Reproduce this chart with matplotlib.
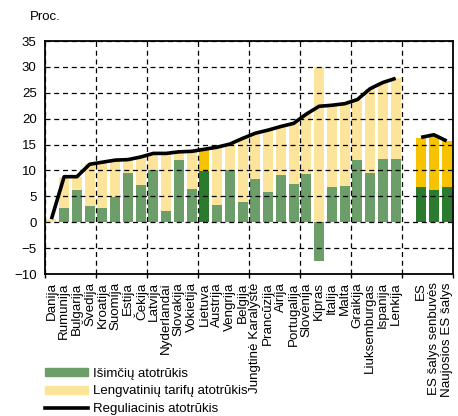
import numpy as np
import matplotlib
matplotlib.use('Agg')
import matplotlib.pyplot as plt
from matplotlib.lines import Line2D
from matplotlib.patches import Patch

plt.rcParams['font.family'] = ['Liberation Sans Narrow', 'Liberation Sans', 'DejaVu Sans']

# šalys (surikiuotos pagal reguliacinį atotrūkį)
countries = ['Danija', 'Rumunija', 'Bulgarija', 'Švedija', 'Kroatija', 'Suomija', 'Estija',
             'Čekija', 'Latvija', 'Nyderlandai', 'Slovakija', 'Vokietija', 'Lietuva',
             'Austrija', 'Vengrija', 'Belgija', 'Jungtinė Karalystė', 'Prancūzija', 'Airija',
             'Portugalija', 'Slovėnija', 'Kipras', 'Italija', 'Malta', 'Graikija',
             'Liuksemburgas', 'Ispanija', 'Lenkija']
exempt = [0.0, 2.8, 6.3, 3.2, 2.7, 4.9, 9.5, 7.2, 10.1, 2.1, 12.1, 6.5, 9.9,
          3.4, 10.0, 4.0, 8.4, 5.8, 9.2, 7.3, 9.4, -7.5, 6.9, 7.0, 12.0, 9.5, 12.3, 12.3]
reduced = [0.6, 6.0, 2.5, 8.0, 8.9, 7.1, 2.6, 5.4, 3.2, 11.2, 1.5, 7.2, 4.2,
           11.1, 5.1, 12.2, 8.8, 12.0, 9.3, 11.8, 11.5, 30.0, 15.7, 15.9, 11.7, 16.3, 14.7, 15.5]
policy = [0.6, 8.8, 8.8, 11.2, 11.6, 12.0, 12.1, 12.6, 13.3, 13.3, 13.6, 13.7, 14.1,
          14.5, 15.1, 16.2, 17.2, 17.8, 18.5, 19.1, 20.9, 22.4, 22.6, 22.9, 23.7, 25.8, 27.0, 27.8]

groups = ['ES', 'ES šalys senbuvės', 'Naujosios ES šalys']
g_exempt = [6.8, 6.3, 6.9]
g_reduced = [9.4, 10.4, 8.7]
g_policy = [16.4, 16.9, 15.7]

green = '#6c9e69'
yellow = '#fde49b'
dgreen = '#2b7b2f'
dyellow = '#f7c300'

fig = plt.figure(figsize=(4.58, 4.16), dpi=100)
ax = fig.add_axes([0.0983, 0.3413, 0.8908, 0.560])

x = np.arange(len(countries))
xg = np.arange(len(groups)) + len(countries) + 1
w = 0.78

cg = [dgreen if c == 'Lietuva' else green for c in countries]
cy = [dyellow if c == 'Lietuva' else yellow for c in countries]
ax.bar(x, exempt, w, color=cg, zorder=1)
pos_base = [max(e, 0) for e in exempt]
ax.bar(x, reduced, w, bottom=pos_base, color=cy, zorder=1)
ax.plot(x, policy, color='black', lw=2.6, zorder=3, solid_capstyle='butt')

ax.bar(xg, g_exempt, w, color=dgreen, zorder=1)
ax.bar(xg, g_reduced, w, bottom=g_exempt, color=dyellow, zorder=1)
ax.plot(xg, g_policy, color='black', lw=2.6, zorder=3, solid_capstyle='butt')

ax.set_xlim(-0.5, 31.5)
ax.set_ylim(-10, 35)
ax.set_yticks(np.arange(-10, 36, 5))
ax.tick_params(axis='y', length=0, labelsize=9.5, pad=6)
ax.set_xticks(np.arange(-0.5, 32, 4))
ax.set_xticklabels([])
ax.tick_params(axis='x', which='major', length=3, direction='out', width=1)
ax.set_xticks(list(x) + list(xg), minor=True)
ax.set_xticklabels(countries + groups, minor=True, rotation=90, fontsize=9.6)
ax.tick_params(axis='x', which='minor', length=0, pad=6)
ax.grid(True, which='major', color='black', linestyle=(0, (4, 3)), lw=0.9)
ax.set_axisbelow(False)
for s in ax.spines.values():
    s.set_linewidth(1.3)

fig.text(0.066, 0.958, 'Proc.', fontsize=9.5, va='center', ha='left')

handles = [Patch(color=green), Patch(color=yellow), Line2D([], [], color='black', lw=2.6)]
labels = ['Išimčių atotrūkis', 'Lengvatinių tarifų atotrūkis', 'Reguliacinis atotrūkis']
fig.legend(handles, labels, loc='upper left', bbox_to_anchor=(0.098, 0.116),
           frameon=False, fontsize=9.5, handlelength=3.25, handleheight=0.55,
           handletextpad=0.4, labelspacing=0.42, borderpad=0, borderaxespad=0)

fig.savefig('out.png', dpi=100)
